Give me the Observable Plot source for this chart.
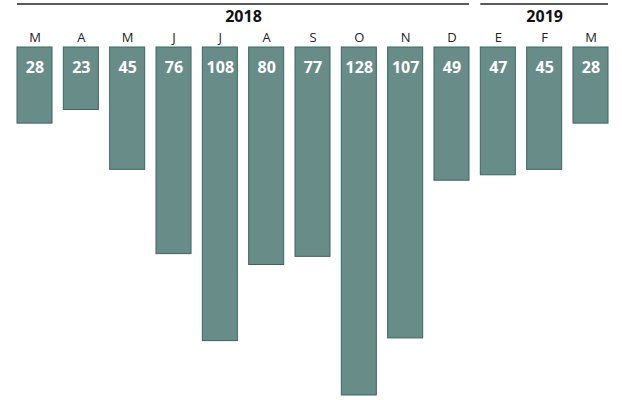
<!DOCTYPE html>
<html>
<head>
<meta charset="utf-8">
<script src="https://cdn.jsdelivr.net/npm/d3@7"></script>
<script src="https://cdn.jsdelivr.net/npm/@observablehq/plot@0.6"></script>
<style>
  html, body { margin: 0; padding: 0; background: #fff; }
  #chart svg { display: block; }
</style>
</head>
<body>
<div id="chart"></div>
<script>
const months = ["M", "A", "M", "J", "J", "A", "S", "O", "N", "D", "E", "F", "M"];
const values = [28, 23, 45, 76, 108, 80, 77, 128, 107, 49, 47, 45, 28];
const years = ["2018", "2019"];
const yearStart = [0, 10];
const yearEnd = [9, 12];

const hw = 0.378; // half bar width in month units
const data = months.map((m, i) => ({i, month: m, value: values[i]}));
const yearData = years.map((y, k) => ({year: y, start: yearStart[k], end: yearEnd[k]}));

const chart = Plot.plot({
  width: 622,
  height: 400,
  marginTop: 47,
  marginBottom: 5,
  marginLeft: 17,
  marginRight: 14,
  x: {domain: [-hw, months.length - 1 + hw], axis: null},
  y: {domain: [0, 128], reverse: true, axis: null},
  style: {fontFamily: "'Open Sans', 'Noto Sans', sans-serif"},
  marks: [
    Plot.rectY(data, {
      x1: d => d.i - hw, x2: d => d.i + hw, y1: 0, y2: "value",
      fill: "#688c88", stroke: "#3a6662", strokeWidth: 1
    }),
    Plot.text(data, {
      x: "i", y: 0, text: d => String(d.value), dy: 20,
      fill: "white", fontWeight: "bold", fontSize: 16
    }),
    Plot.text(data, {
      x: "i", frameAnchor: "top", text: "month", dy: -10,
      fill: "#222", fontSize: 13, lineAnchor: "middle"
    }),
    Plot.ruleY(yearData, {
      y: 0, x1: d => d.start - hw, x2: d => d.end + hw, dy: -43.5,
      stroke: "#222", strokeWidth: 1.5
    }),
    Plot.text(yearData, {
      x: d => (d.start + d.end) / 2, frameAnchor: "top", text: "year", dy: -31,
      fill: "#111", fontWeight: "bold", fontSize: 16, lineAnchor: "middle"
    })
  ]
});
document.getElementById("chart").appendChild(chart);
</script>
</body>
</html>
